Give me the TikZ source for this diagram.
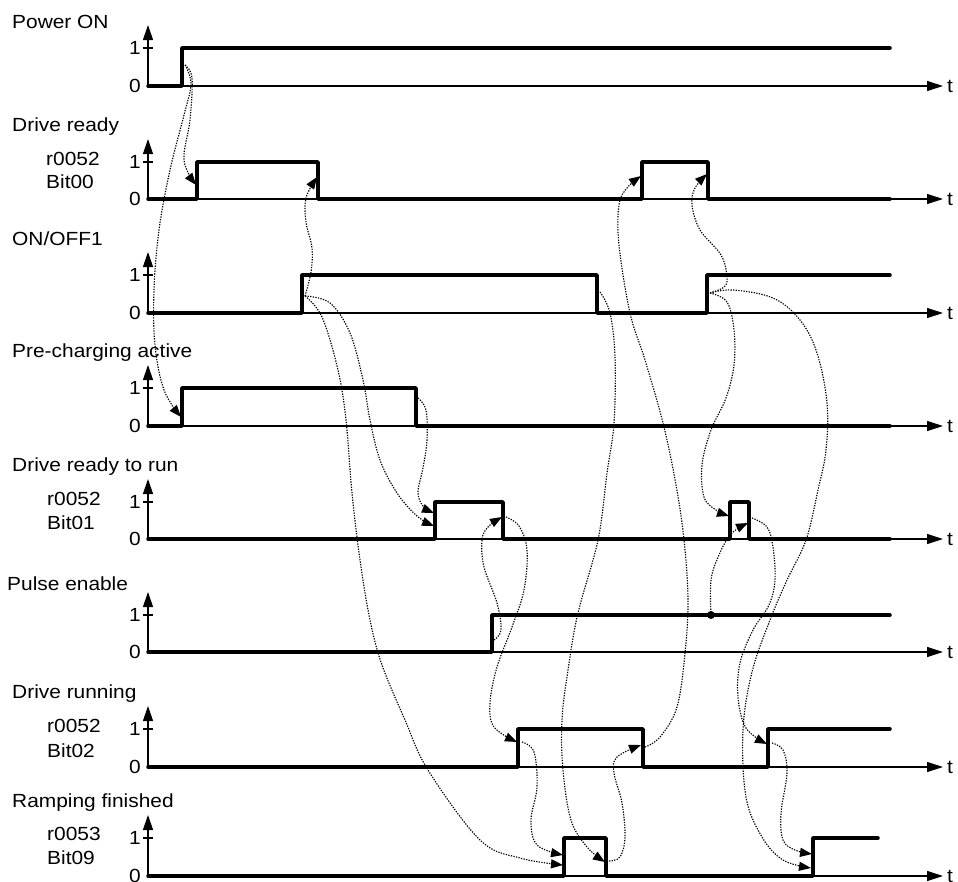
\documentclass[tikz,border=0pt]{standalone}
\usepackage{fontspec}
\setmainfont[FakeStretch=1.1]{Liberation Sans}
\usetikzlibrary{arrows.meta}
\begin{document}
\begin{tikzpicture}[x=1pt,y=-1pt,
  lab/.style={font=\fontsize{19}{22}\selectfont, inner sep=0pt},
  axisline/.style={line width=1.2pt},
  sig/.style={line width=3.5pt, line join=round, line cap=round},
  dep/.style={line width=1.15pt, dash pattern=on 1.3pt off 1.3pt, -{Triangle[length=12pt,width=9pt]}}]
\useasboundingbox (0,0) rectangle (958,881);
\fill[white] (0,0) rectangle (958,881);

% axes
\foreach \ya/\yb in {48/86, 162/199, 275/313, 388/426, 502/539, 615/652, 729/767, 838/876} {
  \draw[axisline,-{Triangle[length=15pt,width=10pt]}] (148,\yb) -- (148,\ya-23);
  \draw[axisline] (143,\ya) -- (153,\ya);
  \draw[axisline,-{Triangle[length=16pt,width=10pt]}] (148,\yb) -- (943,\yb);
  \node[lab,anchor=east] at (141,\ya) {1};
  \node[lab,anchor=east] at (141,\yb) {0};
  \node[lab,anchor=west] at (947,\yb) {t};
}

% labels
\node[lab,anchor=base west] (l1) at (12,28) {Power ON};
\node[lab,anchor=base west] (l2) at (12,131) {Drive ready};
\node[lab,anchor=base west] (l2a) at (46,165) {r0052};
\node[lab,anchor=base west] (l2b) at (46,188) {Bit00};
\node[lab,anchor=base west] (l3) at (12,245) {ON/OFF1};
\node[lab,anchor=base west] (l4) at (12,357) {Pre-charging active};
\node[lab,anchor=base west] (l5) at (12,471) {Drive ready to run};
\node[lab,anchor=base west] (l5a) at (47,505) {r0052};
\node[lab,anchor=base west] (l5b) at (47,529) {Bit01};
\node[lab,anchor=base west] (l6) at (7,590) {Pulse enable};
\node[lab,anchor=base west] (l7) at (12,698) {Drive running};
\node[lab,anchor=base west] (l7a) at (47,732) {r0052};
\node[lab,anchor=base west] (l7b) at (47,757) {Bit02};
\node[lab,anchor=base west] (l8) at (12,807) {Ramping finished};
\node[lab,anchor=base west] (l8a) at (47,840) {r0053};
\node[lab,anchor=base west] (l8b) at (47,864) {Bit09};

% signals
\draw[sig] (148,86) -- (182,86) -- (182,48) -- (890,48);
\draw[sig] (148,199) -- (197,199) -- (197,162) -- (318,162) -- (318,199) -- (642,199) -- (642,162) -- (708,162) -- (708,199) -- (890,199);
\draw[sig] (148,313) -- (302,313) -- (302,275) -- (597,275) -- (597,313) -- (707,313) -- (707,275) -- (890,275);
\draw[sig] (148,426) -- (182,426) -- (182,388) -- (416,388) -- (416,426) -- (890,426);
\draw[sig] (148,539) -- (435,539) -- (435,502) -- (503,502) -- (503,539) -- (730,539) -- (730,502) -- (749,502) -- (749,539) -- (890,539);
\draw[sig] (148,652) -- (492,652) -- (492,615) -- (890,615);
\draw[sig] (148,767) -- (518,767) -- (518,729) -- (643,729) -- (643,767) -- (768,767) -- (768,729) -- (890,729);
\draw[sig] (148,876) -- (564,876) -- (564,838) -- (606,838) -- (606,876) -- (813,876) -- (813,838) -- (878,838);

% connector end points
\coordinate (ponR) at (185,65);
\coordinate (drR1) at (196,185);
\coordinate (pcR) at (181,417);
\coordinate (ooR) at (305,296);
\coordinate (drF) at (317,177);
\coordinate (pcF) at (418,398);
\coordinate (drrR1) at (434,513);
\coordinate (drrR2) at (434,526);
\coordinate (rfR2) at (563,865);
\coordinate (peR) at (494,640);
\coordinate (drrF1) at (502,517);
\coordinate (drrF) at (506,517);
\coordinate (runR) at (517,742);
\coordinate (runRo) at (522,742);
\coordinate (rfR1) at (563,855);
\coordinate (ooF) at (600,292);
\coordinate (rfF) at (605,862);
\coordinate (rfFo) at (609,861);
\coordinate (runF) at (641,745);
\coordinate (runFo) at (645,747);
\coordinate (drR2) at (641,176);
\coordinate (ooR2) at (710,293);
\coordinate (drF2) at (707,174);
\coordinate (drrR3) at (729,516);
\coordinate (pedot) at (711,615);
\coordinate (drrF2) at (748,523);
\coordinate (drrF2o) at (752,518);
\coordinate (runR2) at (767,744);
\coordinate (runR2o) at (772,743);
\coordinate (rfR3) at (812,854);
\coordinate (rfR4) at (811,868);

% dependency connectors
\draw[dep] plot[smooth,tension=0.6] coordinates {(ponR) (192,78) (190,120) (184,160) (drR1)};
\draw[dep] plot[smooth,tension=0.6] coordinates {(ponR) (191,84) (184,115) (170,170) (159,230) (154,290) (155,345) (164,390) (pcR)};
\draw[dep] plot[smooth,tension=0.6] coordinates {(ooR) (311,272) (312,248) (306,222) (306,198) (drF)};
\draw[dep] plot[smooth,tension=0.6] coordinates {(pcF) (426,410) (427,440) (423,468) (418,492) (423,506) (drrR1)};
\draw[dep] plot[smooth,tension=0.6] coordinates {(ooR) (330,303) (350,333) (363,380) (370,420) (380,460) (397,493) (417,516) (drrR2)};
\draw[dep] plot[smooth,tension=0.6] coordinates {(ooR) (322,317) (338,370) (346,420) (352,493) (360,560) (370,620) (382,665) (405,720) (428,770) (480,840) (520,858) (rfR2)};
\draw[dep] plot[smooth,tension=0.6] coordinates {(peR) (501,630) (497,603) (484,567) (482,540) (488,527) (drrF1)};
\draw[dep] plot[smooth,tension=0.6] coordinates {(drrF) (519,526) (527,550) (524,590) (512,627) (497,667) (490,703) (494,727) (runR)};
\draw[dep] plot[smooth,tension=0.6] coordinates {(runRo) (534,752) (537,787) (531,820) (537,845) (rfR1)};
\draw[dep] plot[smooth,tension=0.6] coordinates {(ooF) (610,313) (615,357) (614,423) (607,473) (598,540) (578,613) (568,670) (562,720) (563,770) (571,820) (587,847) (rfF)};
\draw[dep] plot[smooth,tension=0.6] coordinates {(rfFo) (620,857) (625,837) (622,803) (614,773) (617,757) (runF)};
\draw[dep] plot[smooth,tension=0.6] coordinates {(runFo) (660,737) (677,707) (685,653) (688,600) (684,540) (676,485) (663,423) (645,360) (630,313) (619,245) (619,205) (627,188) (drR2)};
\draw[dep] plot[smooth,tension=0.6] coordinates {(ooR2) (724,287) (727,277) (721,255) (700,230) (692,205) (695,188) (drF2)};
\draw[dep] plot[smooth,tension=0.6] coordinates {(ooR2) (727,302) (734,330) (734,365) (726,398) (711,430) (702,465) (704,497) (716,510) (drrR3)};
\draw[dep] plot[smooth,tension=0.6] coordinates {(pedot) (711,580) (719,555) (731,534) (drrF2)};
\draw[dep] plot[smooth,tension=0.6] coordinates {(drrF2o) (767,527) (773,547) (775,580) (769,605) (753,630) (740,663) (738,697) (746,728) (runR2)};
\draw[dep] plot[smooth,tension=0.6] coordinates {(runR2o) (783,750) (787,773) (781,813) (783,840) (795,850) (rfR3)};
\draw[dep] plot[smooth,tension=0.6] coordinates {(ooR2) (733,290) (773,298) (800,320) (817,353) (827,403) (826,450) (818,490) (806,540) (787,580) (770,620) (752,672) (743,730) (746,797) (762,837) (783,860) (rfR4)};

\fill (pedot) circle (4);
\end{tikzpicture}
\end{document}
